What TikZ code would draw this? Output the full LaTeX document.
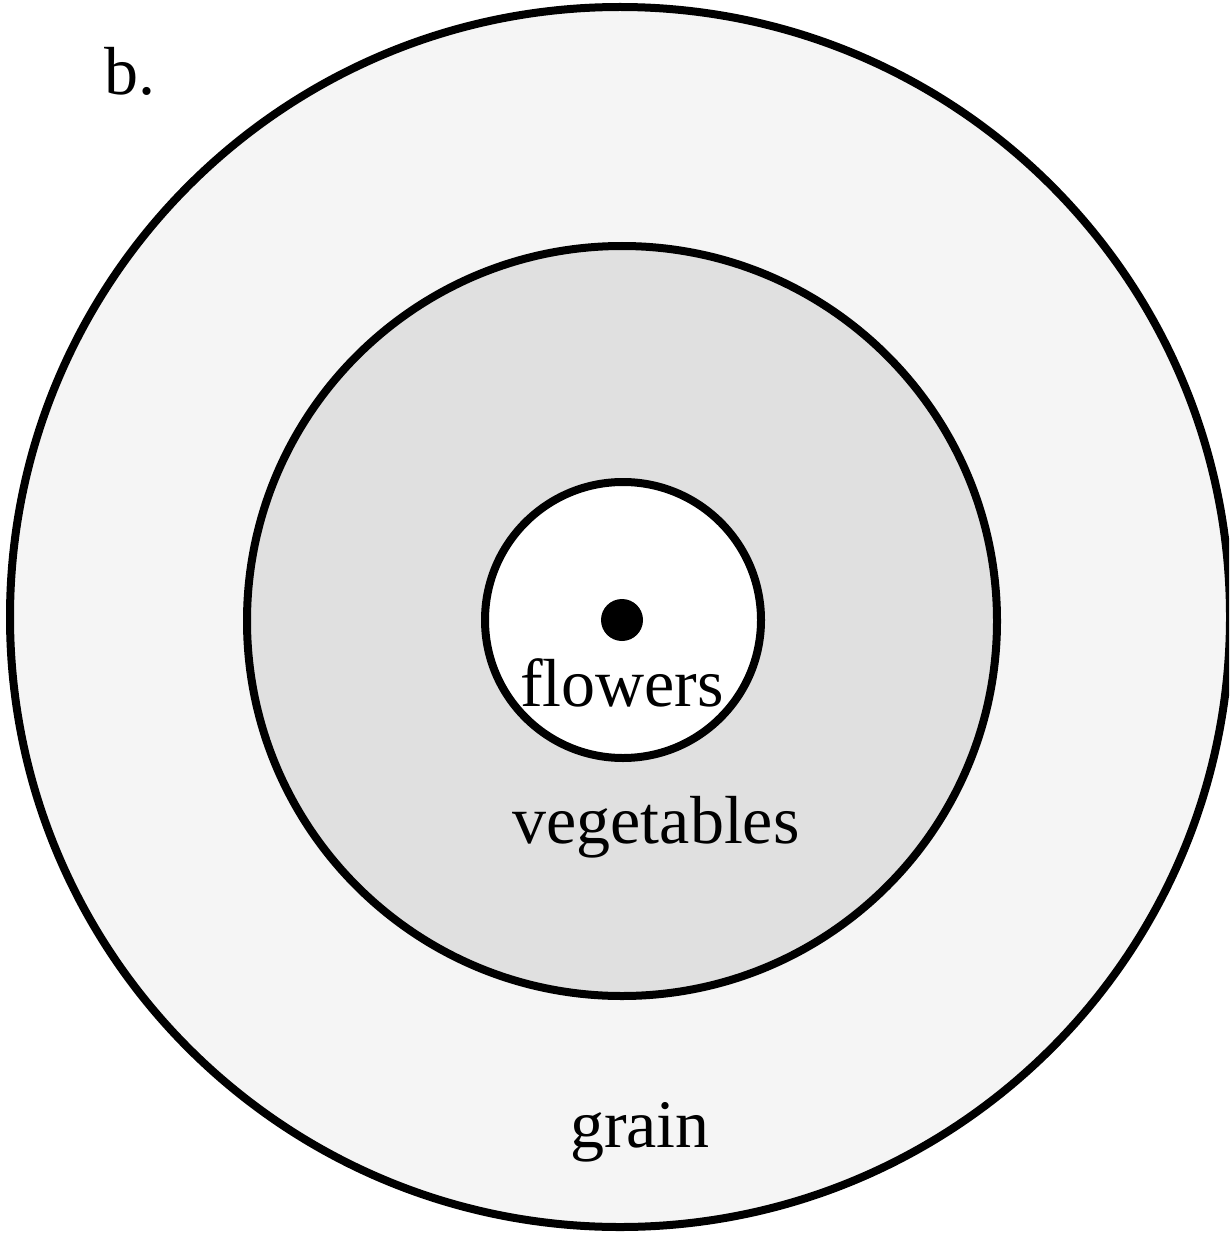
\documentclass[tikz,border=0pt]{standalone}
\usepackage{fontspec}
\setmainfont{Liberation Serif}
\begin{document}
\begin{tikzpicture}[x=1pt,y=-1pt,
  ring/.style={draw=black, line width=8pt},
  lbl/.style={font=\fontsize{68}{68}\selectfont, inner sep=0pt}]
\useasboundingbox (0,0) rectangle (1229,1233);
\clip (0,0) rectangle (1229,1233);
\fill[white] (0,0) rectangle (1229,1233);
\node[ring, circle, fill=black!4, minimum size=1220pt] (outer) at (620,617) {};
\node[ring, circle, fill=black!12, minimum size=750pt] (middle) at (622,621) {};
\node[ring, circle, fill=white, minimum size=276pt] (inner) at (623,620) {};
\node[circle, fill=black, inner sep=0pt, minimum size=42pt] (dot) at (622,620) {};
\node[lbl, anchor=base] (flowers) at (622,706) {flowers};
\node[lbl, anchor=base] (veg) at (656,843) {vegetables};
\node[lbl, anchor=base] (grain) at (640,1147) {grain};
\node[lbl, anchor=base west] (b) at (104,95) {b.};
\end{tikzpicture}
\end{document}
